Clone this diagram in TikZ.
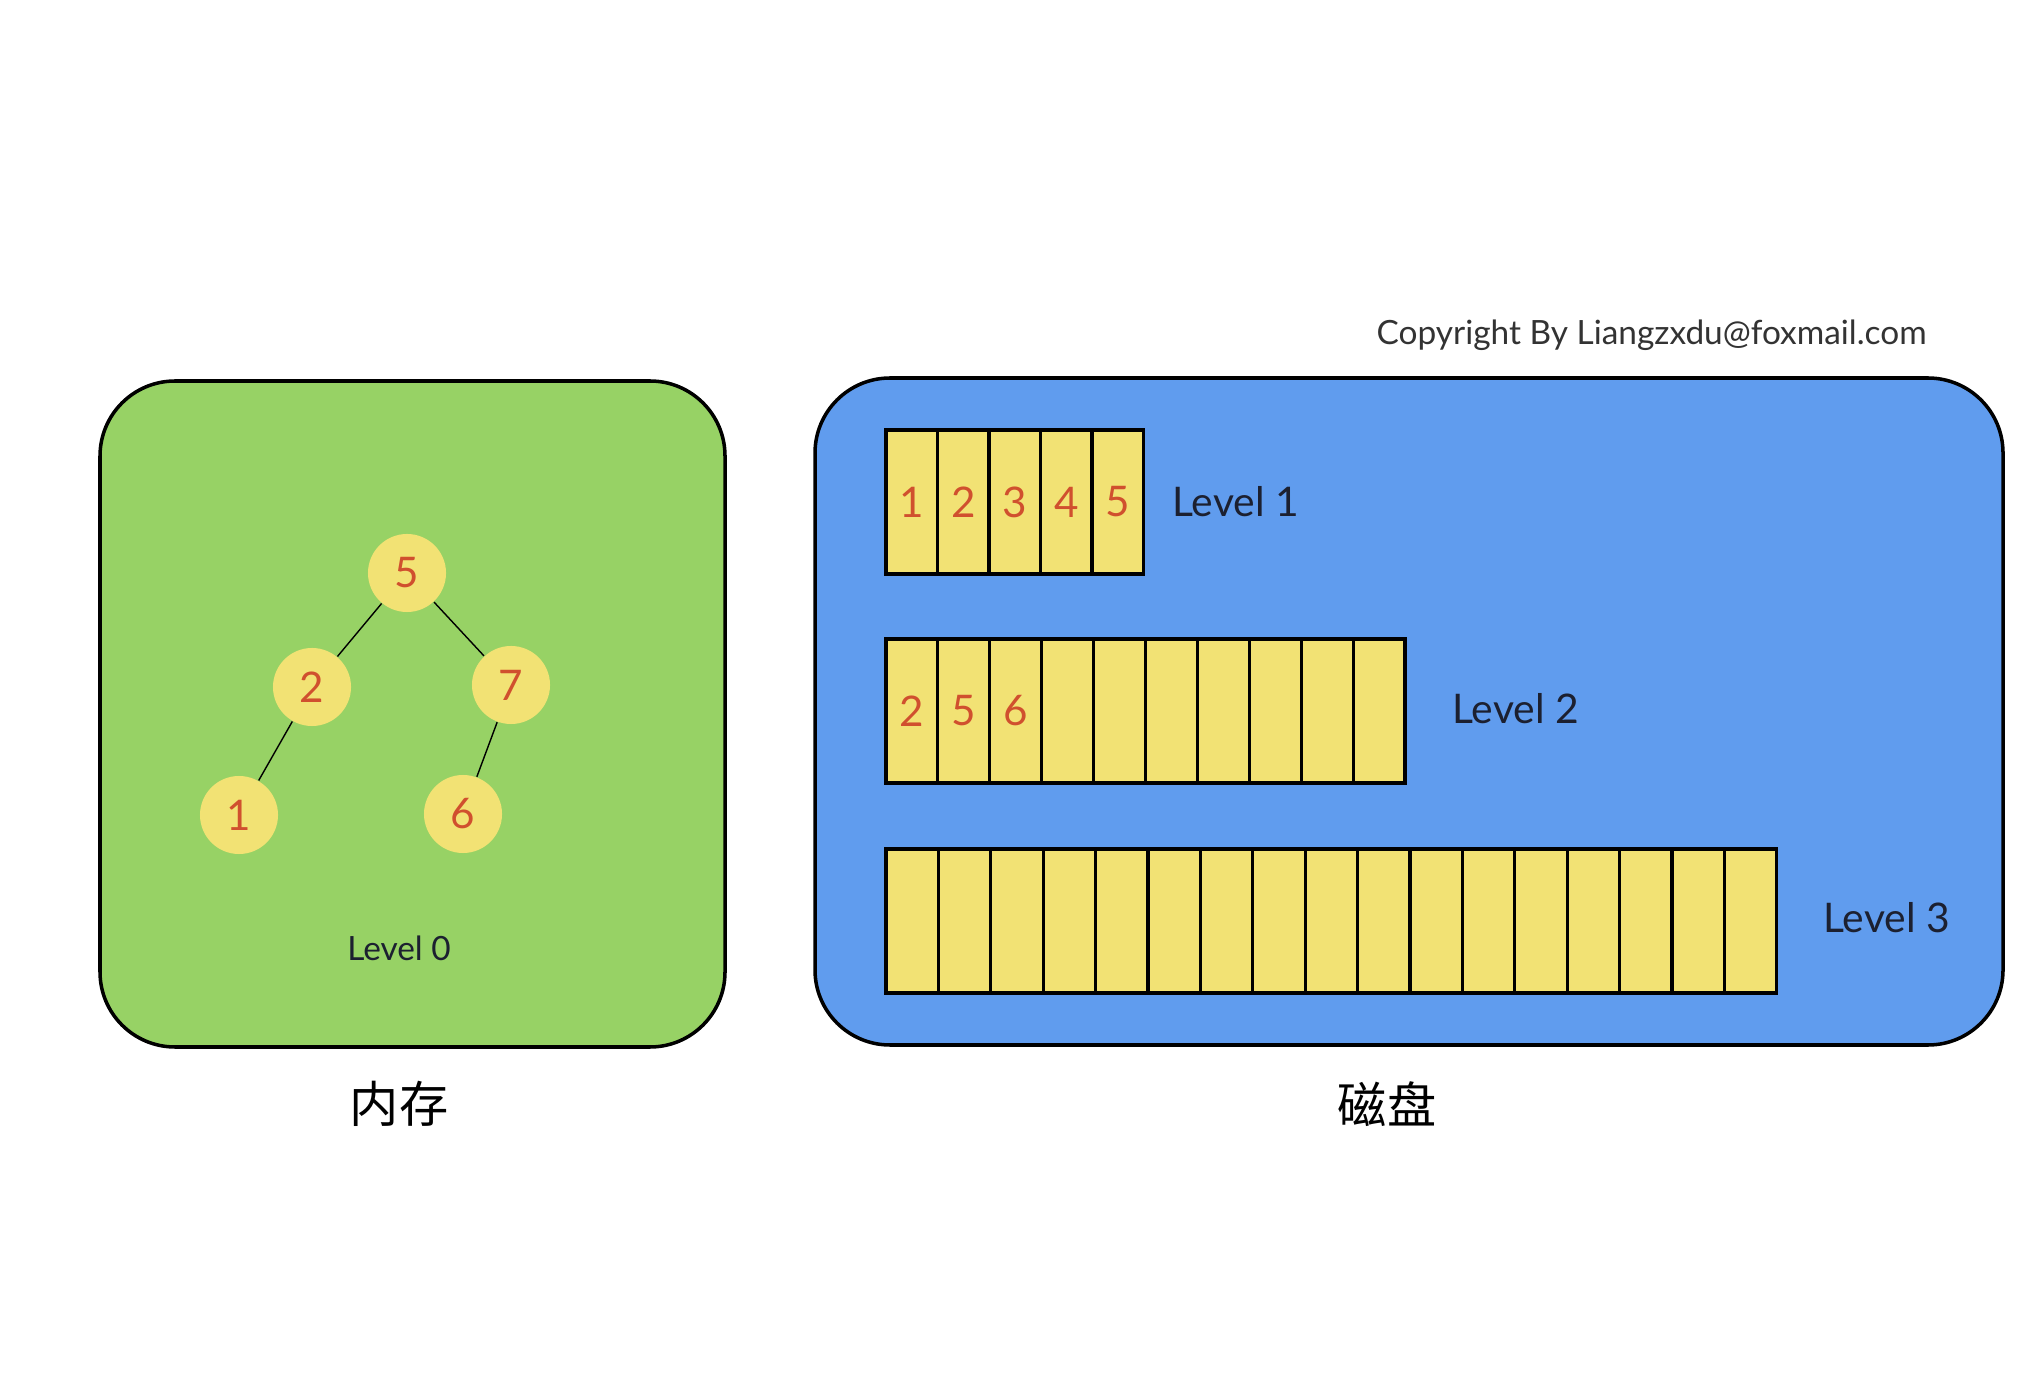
\documentclass[tikz,border=0pt]{standalone}
\usepackage{fontspec}
\setmainfont{Lato}
\newfontfamily\cjk{Noto Sans CJK SC}
\usetikzlibrary{positioning}
\definecolor{memgreen}{RGB}{151,210,101}
\definecolor{diskblue}{RGB}{96,156,238}
\definecolor{keyyellow}{RGB}{242,226,116}
\definecolor{keyred}{RGB}{208,80,46}
\definecolor{labelnavy}{RGB}{28,32,48}
\tikzset{
	region/.style = {draw = black, line width = 1pt, rounded corners = 0.75cm},
	key/.style = {circle, fill = keyyellow, minimum size = 0.78cm, inner sep = 0pt, text = keyred, font = \fontsize{12}{14}\selectfont},
	edge/.style = {line width = 0.4pt},
	cell/.style = {draw = black, line width = 0.9pt, fill = keyyellow, minimum height = 1.44cm, inner sep = 0pt, text = keyred, font = \fontsize{12}{14}\selectfont},
	levellabel/.style = {anchor = west, text = labelnavy, font = \fontsize{11.6}{13}\selectfont},
	caption/.style = {font = \cjk\fontsize{14}{16}\selectfont}
}

\begin{document}
\begin{tikzpicture}[x = 0.01cm, y = -0.01cm]
	\def\xo{886};
	
	\useasboundingbox [fill = white] (0,0) rectangle (2040,1398);
	
	% memory
	\draw [region, fill = memgreen] (100,381) rectangle (725,1047);
	
	\node [key] (t5) at (407,573) {5};
	\node [key] (t2) at (312,687) {2};
	\node [key] (t7) at (511,685) {7};
	\node [key] (t1) at (239,815) {1};
	\node [key] (t6) at (463,814) {6};
	
	\draw [edge] (t5) -- (t2);
	\draw [edge] (t5) -- (t7);
	\draw [edge] (t2) -- (t1);
	\draw [edge] (t7) -- (t6);
	
	\node [text = labelnavy, font = \fontsize{9.5}{11}\selectfont] (level0) at (399,948) {Level 0};
	\node [caption] (mem) at (399,1104) {内存};
	
	% disk
	\draw [region, fill = diskblue] (815,378) rectangle (2003,1045);
	
	\node [text = black!80, font = \fontsize{9.5}{11}\selectfont, anchor = east] (copy) at (1939,335) {Copyright By Liangzxdu@foxmail.com};
	
	\foreach \i in {1,...,5}
		\node [cell, minimum width = 0.515cm] (a\i) at ({\xo + (\i - 0.5)*51.5},502) {\i};
	\foreach \i/\t in {1/2, 2/5, 3/6, 4/{}, 5/{}, 6/{}, 7/{}, 8/{}, 9/{}, 10/{}}
		\node [cell, minimum width = 0.519cm] (b\i) at ({\xo + (\i - 0.5)*51.9},711) {\t};
	\foreach \i in {1,...,17}
		\node [cell, minimum width = 0.524cm] (c\i) at ({\xo + (\i - 0.5)*52.4},921) {};
	
	\node [levellabel] (level1) at (1160,502) {Level 1};
	\node [levellabel] (level2) at (1440,709) {Level 2};
	\node [levellabel] (level3) at (1811,918) {Level 3};
	
	\node [caption] (disk) at (1387,1104) {磁盘};
\end{tikzpicture}
\end{document}
